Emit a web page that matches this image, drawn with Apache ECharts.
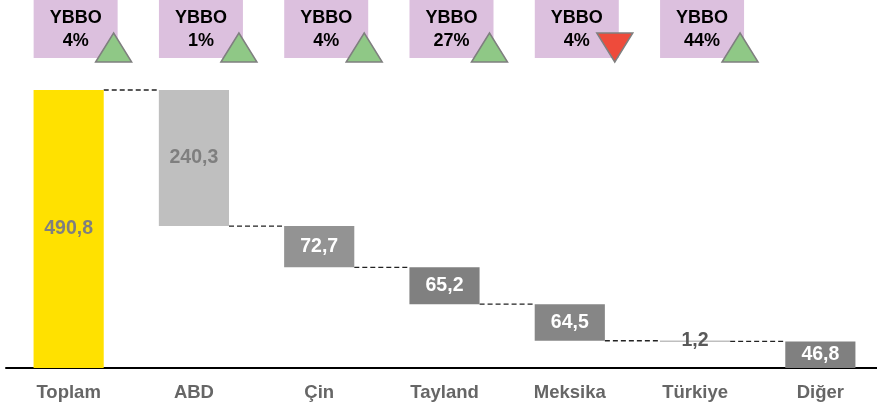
<!DOCTYPE html>
<html>
<head>
<meta charset="utf-8">
<script src="https://cdn.jsdelivr.net/npm/echarts@6/dist/echarts.min.js"></script>
<style>
html,body{margin:0;padding:0;background:#fff;}
#chart{width:877px;height:408px;}
</style>
</head>
<body>
<div id="chart"></div>
<script>
var categories = ['Toplam', 'ABD', 'Çin', 'Tayland', 'Meksika', 'Türkiye', 'Diğer'];
var values = [490.8, 240.3, 72.7, 65.2, 64.5, 1.2, 46.8];
var barColors = ['#FFE100', '#BFBFBF', '#939393', '#808080', '#868686', '#808080', '#808080'];
var labelColors = ['#7F7F7F', '#7F7F7F', '#FFFFFF', '#FFFFFF', '#FFFFFF', '#595959', '#FFFFFF'];
var ybboCategories = ['Toplam', 'ABD', 'Çin', 'Tayland', 'Meksika', 'Türkiye'];
var ybboPct = [4, 1, 4, 27, 4, 44];
var ybboDir = ['up', 'up', 'up', 'up', 'down', 'up'];

// waterfall bases
var bases = [];
var remaining = values[0];
bases.push(0);
for (var i = 1; i < values.length; i++) {
  remaining = remaining - values[i];
  bases.push(Math.max(0, +remaining.toFixed(1)));
}
// connector levels: top of next bar
var connectors = [];
for (var i = 0; i < values.length - 1; i++) {
  var level = i === 0 ? values[0] : bases[i];
  connectors.push([i, level]);
}

function fmt(v) { return String(v).replace('.', ','); }

var chart = echarts.init(document.getElementById('chart'), null, {renderer: 'canvas'});
var option = {
  animation: false,
  grid: {left: 6, width: 877, top: 90, height: 278, containLabel: false, outerBoundsMode: 'none'},
  xAxis: {
    type: 'category',
    data: categories,
    axisLine: {show: true, lineStyle: {color: '#000', width: 2}},
    axisTick: {show: false},
    axisLabel: {color: '#666666', fontWeight: 'bold', fontSize: 18.5, fontFamily: 'Liberation Sans, Arial', margin: 15}
  },
  yAxis: {
    type: 'value', min: 0, max: values[0], show: false,
    splitLine: {show: false}
  },
  series: [
    {
      type: 'bar', stack: 'w', barWidth: '56%',
      data: bases,
      itemStyle: {color: 'transparent'},
      silent: true
    },
    {
      type: 'bar', stack: 'w', barWidth: '56%',
      data: values.map(function (v, i) {
        return {
          value: v,
          itemStyle: {color: barColors[i]},
          label: {color: labelColors[i]}
        };
      }),
      label: {
        show: true, position: 'inside',
        fontWeight: 'bold', fontSize: 19.5, fontFamily: 'Liberation Sans, Arial',
        formatter: function (p) { return fmt(p.value); }
      }
    },
    {
      type: 'custom',
      data: connectors,
      silent: true, z: 1,
      renderItem: function (params, api) {
        var idx = api.value(0);
        var lvl = api.value(1);
        var p1 = api.coord([idx, lvl]);
        var p2 = api.coord([idx + 1, lvl]);
        var half = api.size([1, 0])[0] * 0.28;
        return {
          type: 'line',
          shape: {x1: p1[0] + half, y1: p1[1], x2: p2[0] - half, y2: p2[1]},
          style: {stroke: '#222222', lineWidth: 1.3, lineDash: [5, 3]}
        };
      }
    },
    {
      type: 'custom',
      data: ybboCategories.map(function (c, i) { return [i, ybboPct[i], ybboDir[i] === 'up' ? 1 : -1]; }),
      silent: true, z: 10,
      renderItem: function (params, api) {
        var idx = api.value(0);
        var pct = api.value(1);
        var dir = api.value(2);
        var cx = api.coord([idx, 0])[0] + 7;
        var bx = cx - 42, bw = 84, bh = 58;
        var tx = bx + bw - 4;
        var tri = dir > 0
          ? [[tx - 18, 62], [tx, 33], [tx + 18, 62]]
          : [[tx - 18, 33], [tx + 18, 33], [tx, 62]];
        return {
          type: 'group',
          children: [
            {type: 'rect', shape: {x: bx, y: 0, width: bw, height: bh}, style: {fill: '#DCC0DE'}},
            {type: 'text', style: {text: 'YBBO', x: cx, y: 18, align: 'center', verticalAlign: 'middle', fill: '#000', font: 'bold 18px "Liberation Sans", Arial'}},
            {type: 'text', style: {text: pct + '%', x: cx, y: 41, align: 'center', verticalAlign: 'middle', fill: '#000', font: 'bold 18px "Liberation Sans", Arial'}},
            {type: 'polygon', shape: {points: tri}, style: {fill: dir > 0 ? '#8FC886' : '#EE4B3B', stroke: '#7F7F7F', lineWidth: 1.5}}
          ]
        };
      }
    }
  ]
};
chart.setOption(option);
</script>
</body>
</html>
